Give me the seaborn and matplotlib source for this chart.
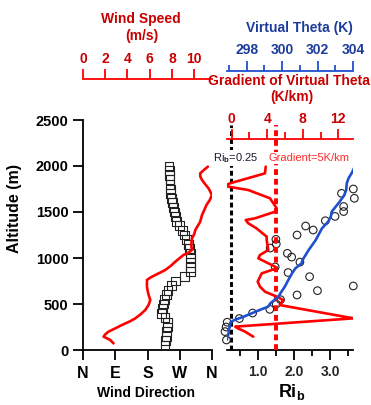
import matplotlib
matplotlib.use("Agg")
import matplotlib.pyplot as plt
import seaborn as sns
import pandas as pd

# ---- wind profile ----
wdir_alt = [50, 100, 150, 200, 250, 300, 350, 400, 450, 500, 550, 600, 650, 700,
            750, 800, 850, 900, 950, 1000, 1050, 1100, 1150, 1200, 1250, 1300,
            1350, 1400, 1450, 1500, 1550, 1600, 1650, 1700, 1750, 1800, 1850,
            1900, 1950, 2000]
wdir_deg = [229, 230, 232, 234, 236, 235, 229, 220, 221, 224, 228, 232, 237, 246,
            258, 283, 299, 300, 300, 299, 299, 297, 294, 289, 284, 278,
            270, 261, 258, 256, 253, 250, 247, 245, 244, 243, 243,
            242, 241, 240]

ws_alt = [72, 90, 109, 145, 170, 200, 235, 272, 310, 344, 390, 435, 490, 543,
          600, 650, 688, 761, 790, 815, 845, 870, 915, 960, 1000, 1033, 1060,
          1087, 1141, 1214, 1260, 1304, 1395, 1467, 1520, 1576, 1630, 1685,
          1720, 1757, 1800, 1848, 1885, 1920, 1960, 1993]
ws_val = [2.75, 2.6, 2.45, 1.85, 2.0, 2.3, 2.9, 3.5, 4.2, 4.7, 5.2, 5.6, 5.9, 6.05,
          5.9, 5.8, 5.75, 5.75, 6.1, 6.5, 7.0, 7.4, 7.9, 8.3, 8.7, 9.04, 9.5,
          9.8, 9.73, 9.8, 10.0, 10.1, 10.54, 10.7, 10.9, 11.1, 11.4, 11.59,
          11.45, 11.29, 11.0, 10.7, 10.55, 10.54, 10.9, 11.23]

# ---- stability profile ----
ri_alt = [1750, 1703, 1649, 1560, 1505, 1452, 1405, 1348, 1304, 1250, 1203,
          1152, 1108, 1051, 1010, 955, 903, 842, 797, 696, 645, 598, 547, 500,
          442, 402, 342, 302, 250, 200, 109]
ri_val = [3.65, 3.32, 3.68, 3.38, 3.38, 3.14, 2.87, 2.32, 2.53, 2.08, 1.49,
          1.50, 1.33, 1.81, 1.93, 2.16, 1.47, 1.83, 2.43, 3.65, 2.65, 2.08, 1.62,
          1.50, 1.32, 0.84, 0.47, 0.13, 0.10, 0.07, 0.11]

theta_alt = [110, 130, 180, 220, 260, 300, 326, 360, 400, 440, 470, 510, 580,
             616, 688, 761, 830, 888, 942, 978, 1087, 1196, 1322, 1395, 1450,
             1503, 1612, 1680, 1739, 1812, 1866, 1930, 1993]
theta_val = [296.87, 296.9, 296.98, 296.98, 297.05, 297.08, 297.3, 297.8, 298.3,
             298.8, 299.2, 299.35, 299.8, 299.9, 300.15, 300.35, 300.55, 300.75,
             301.1, 301.15, 301.5, 301.9, 302.25, 302.6, 302.75, 302.8, 303.25,
             303.5, 303.62, 303.65, 303.75, 303.95, 304.1]

grad_alt = [145, 200, 235, 254, 344, 489, 543, 580, 634, 688, 743, 833, 888,
            906, 996, 1033, 1087, 1196, 1232, 1322, 1377, 1413, 1431, 1503,
            1540, 1649, 1739, 1775, 1793, 1812, 1920, 1993]
grad_val = [2.43, 1.5, 0.7, 0.4, 13.7, 5.4, 5.8, 5.07, 3.75, 3.19, 2.93, 3.38,
            5.07, 4.88, 3.0, 3.19, 4.12, 3.94, 3.94, 2.8, 1.87, 1.58, 2.62,
            4.88, 5.07, 4.31, 1.87, -0.38, -0.6, -0.19, 3.75, 3.83]

ri_crit = 0.25
grad_crit = 5

alt_ticks = [0, 500, 1000, 1500, 2000, 2500]
dir_ticks = [0, 90, 180, 270, 360]
dir_labels = ["N", "E", "S", "W", "N"]
ws_ticks = [0, 2, 4, 6, 8, 10]
theta_ticks = [298, 300, 302, 304]
theta_minor = [297, 299, 301, 303]
grad_ticks = [0, 4, 8, 12]
grad_minor = [2, 6, 10]
ri_ticks = [1.0, 2.0, 3.0]
ri_labels = ["1.0", "2.0", "3.0"]
ri_minor = [0.5, 1.5, 2.5, 3.5]

wind = pd.DataFrame({"alt": wdir_alt, "dir": wdir_deg})
speed = pd.DataFrame({"alt": ws_alt, "ws": ws_val})
ri = pd.DataFrame({"alt": ri_alt, "ri": ri_val})
theta = pd.DataFrame({"alt": theta_alt, "theta": theta_val})
grad = pd.DataFrame({"alt": grad_alt, "grad": grad_val})

sns.set_theme(style="ticks")
plt.rcParams["font.family"] = ["Liberation Sans", "DejaVu Sans"]
plt.rcParams["font.weight"] = "bold"
plt.rcParams["mathtext.fontset"] = "custom"
plt.rcParams["mathtext.rm"] = "Liberation Sans"
plt.rcParams["mathtext.bf"] = "Liberation Sans:bold"
plt.rcParams["mathtext.it"] = "Liberation Sans:italic"

W, H = 371, 405
fig = plt.figure(figsize=(W / 100, H / 100), dpi=100)


def box(x0, y0, x1, y1):
    return [x0 / W, 1 - y1 / H, (x1 - x0) / W, (y1 - y0) / H]


RED = "#ff0000"
DRED = "#c80000"
BLUE = "#1f4fcf"
DBLUE = "#1c3c9c"

# ---------------- left panel: wind ----------------
ax_l = fig.add_axes(box(83, 120, 212, 350))
sns.scatterplot(data=wind, x="dir", y="alt", marker="s", s=40,
                facecolor="none", edgecolor="#222222", linewidth=0.8,
                ax=ax_l, zorder=3)
ax_l.set_xlim(0, 360)
ax_l.set_ylim(0, 2500)
ax_l.set_xticks(dir_ticks)
ax_l.set_xticklabels(dir_labels)
ax_l.set_yticks(alt_ticks)
ax_l.set_xlabel("")
ax_l.set_ylabel("")
for s in ("top", "right"):
    ax_l.spines[s].set_visible(False)
for s in ("left", "bottom"):
    ax_l.spines[s].set_linewidth(1.3)
    ax_l.spines[s].set_color("black")
ax_l.tick_params(axis="both", direction="out", length=7.5, width=1.3,
                 color="black", labelcolor="black")
ax_l.tick_params(axis="y", labelsize=10.5, pad=3)
ax_l.tick_params(axis="x", labelsize=11.5, pad=4)

ax_ws = ax_l.twiny()
sns.lineplot(data=speed, x="ws", y="alt", orient="y", sort=False,
             estimator=None, color=RED, linewidth=1.9, ax=ax_ws)
ax_ws.set_xlim(0, 11.6)
ax_ws.set_ylim(0, 2500)
ax_ws.set_xticks(ws_ticks)
ax_ws.set_xlabel("")
for s in ("bottom", "left", "right"):
    ax_ws.spines[s].set_visible(False)
ax_ws.spines["top"].set_position(("outward", 29.5))
ax_ws.spines["top"].set_color(RED)
ax_ws.spines["top"].set_linewidth(1.3)
ax_ws.tick_params(axis="x", direction="out", length=7.5, width=1.3,
                  color=RED, labelcolor=DRED, labelsize=10, pad=2)

# ---------------- right panel: stability ----------------
ax_r = fig.add_axes(box(226.7, 139, 353.3, 350))
top_alt = 2500 * (350 - 139) / (350 - 120)
sns.scatterplot(data=ri, x="ri", y="alt", marker="o", s=30,
                facecolor="none", edgecolor="#222222", linewidth=0.8,
                ax=ax_r, zorder=3, clip_on=False)
ax_r.axvline(ri_crit, ymin=0, ymax=(350 - 125) / (350 - 139), color="black",
             linewidth=2.2, dashes=(1.6, 1.0), clip_on=False, zorder=2)
ax_r.set_xlim(0.117, 3.65)
ax_r.set_ylim(0, top_alt)
ax_r.set_xticks(ri_ticks)
ax_r.set_xticklabels(ri_labels)
ax_r.set_xticks(ri_minor, minor=True)
ax_r.set_yticks([])
ax_r.set_xlabel("")
ax_r.set_ylabel("")
for s in ("top", "right", "left"):
    ax_r.spines[s].set_visible(False)
ax_r.spines["bottom"].set_linewidth(1.3)
ax_r.spines["bottom"].set_color("black")
ax_r.tick_params(axis="x", which="major", direction="out", length=7.5,
                 width=1.3, color="black", labelsize=10, pad=3)
ax_r.tick_params(axis="x", which="minor", direction="out", length=4,
                 width=1.3, color="black")

ax_g = ax_r.twiny()
sns.lineplot(data=grad, x="grad", y="alt", orient="y", sort=False,
             estimator=None, color=RED, linewidth=1.9, ax=ax_g)
ax_g.axvline(grad_crit, ymin=0, ymax=(350 - 125) / (350 - 139), color=RED,
             linewidth=2.8, dashes=(1.5, 1.0), clip_on=False)
ax_g.set_xlim(-0.56, 13.69)
ax_g.set_ylim(0, top_alt)
ax_g.set_xticks(grad_ticks)
ax_g.set_xticks(grad_minor, minor=True)
ax_g.set_xlabel("")
for s in ("bottom", "left", "right"):
    ax_g.spines[s].set_visible(False)
ax_g.spines["top"].set_color(RED)
ax_g.spines["top"].set_linewidth(1.3)
ax_g.tick_params(axis="x", which="major", direction="out", length=7.5,
                 width=1.3, color=RED, labelcolor=DRED, labelsize=10, pad=2)
ax_g.tick_params(axis="x", which="minor", direction="out", length=5,
                 width=1.3, color=RED)

ax_t = ax_r.twiny()
sns.lineplot(data=theta, x="theta", y="alt", orient="y", sort=False,
             estimator=None, color=BLUE, linewidth=1.9, ax=ax_t)
ax_t.set_xlim(296.87, 304.02)
ax_t.set_ylim(0, top_alt)
ax_t.set_xticks(theta_ticks)
ax_t.set_xticks(theta_minor, minor=True)
ax_t.set_xlabel("")
for s in ("bottom", "left", "right"):
    ax_t.spines[s].set_visible(False)
ax_t.spines["top"].set_position(("outward", 49.2))
ax_t.spines["top"].set_color(BLUE)
ax_t.spines["top"].set_linewidth(1.3)
ax_t.tick_params(axis="x", which="major", direction="out", length=7.5,
                 width=1.3, color=BLUE, labelcolor=DBLUE, labelsize=10, pad=2)
ax_t.tick_params(axis="x", which="minor", direction="out", length=4,
                 width=1.3, color=BLUE)

# ---------------- labels ----------------
def ftext(x, y, s, **kw):
    return fig.text(x / W, 1 - y / H, s, ha="center", va="center", **kw)


ftext(141, 19, "Wind Speed", color=DRED, fontsize=10)
ftext(142, 36, "(m/s)", color=DRED, fontsize=10)
ftext(299, 28, "Virtual Theta (K)", color=DBLUE, fontsize=10)
ftext(289, 81, "Gradient of Virtual Theta", color=DRED, fontsize=10)
ftext(292, 97, "(K/km)", color=DRED, fontsize=10)
ftext(146, 393, "Wind Direction", color="black", fontsize=10)
ftext(15, 208, "Altitude (m)", color="black", fontsize=11.5, rotation=90)
ftext(292, 392, r"$\mathbf{Ri_b}$", color="black", fontsize=13)
ftext(236, 158, r"Ri$_\mathrm{b}$=0.25", color="#1a1a2e", fontsize=8,
      fontweight="normal", zorder=10,
      bbox=dict(facecolor="white", edgecolor="none", pad=0.6))
ftext(309, 158, "Gradient=5K/km", color="#ff2a2a", fontsize=8,
      fontweight="normal", zorder=10,
      bbox=dict(facecolor="white", edgecolor="none", pad=0.6))

fig.savefig("out.png", dpi=100)
